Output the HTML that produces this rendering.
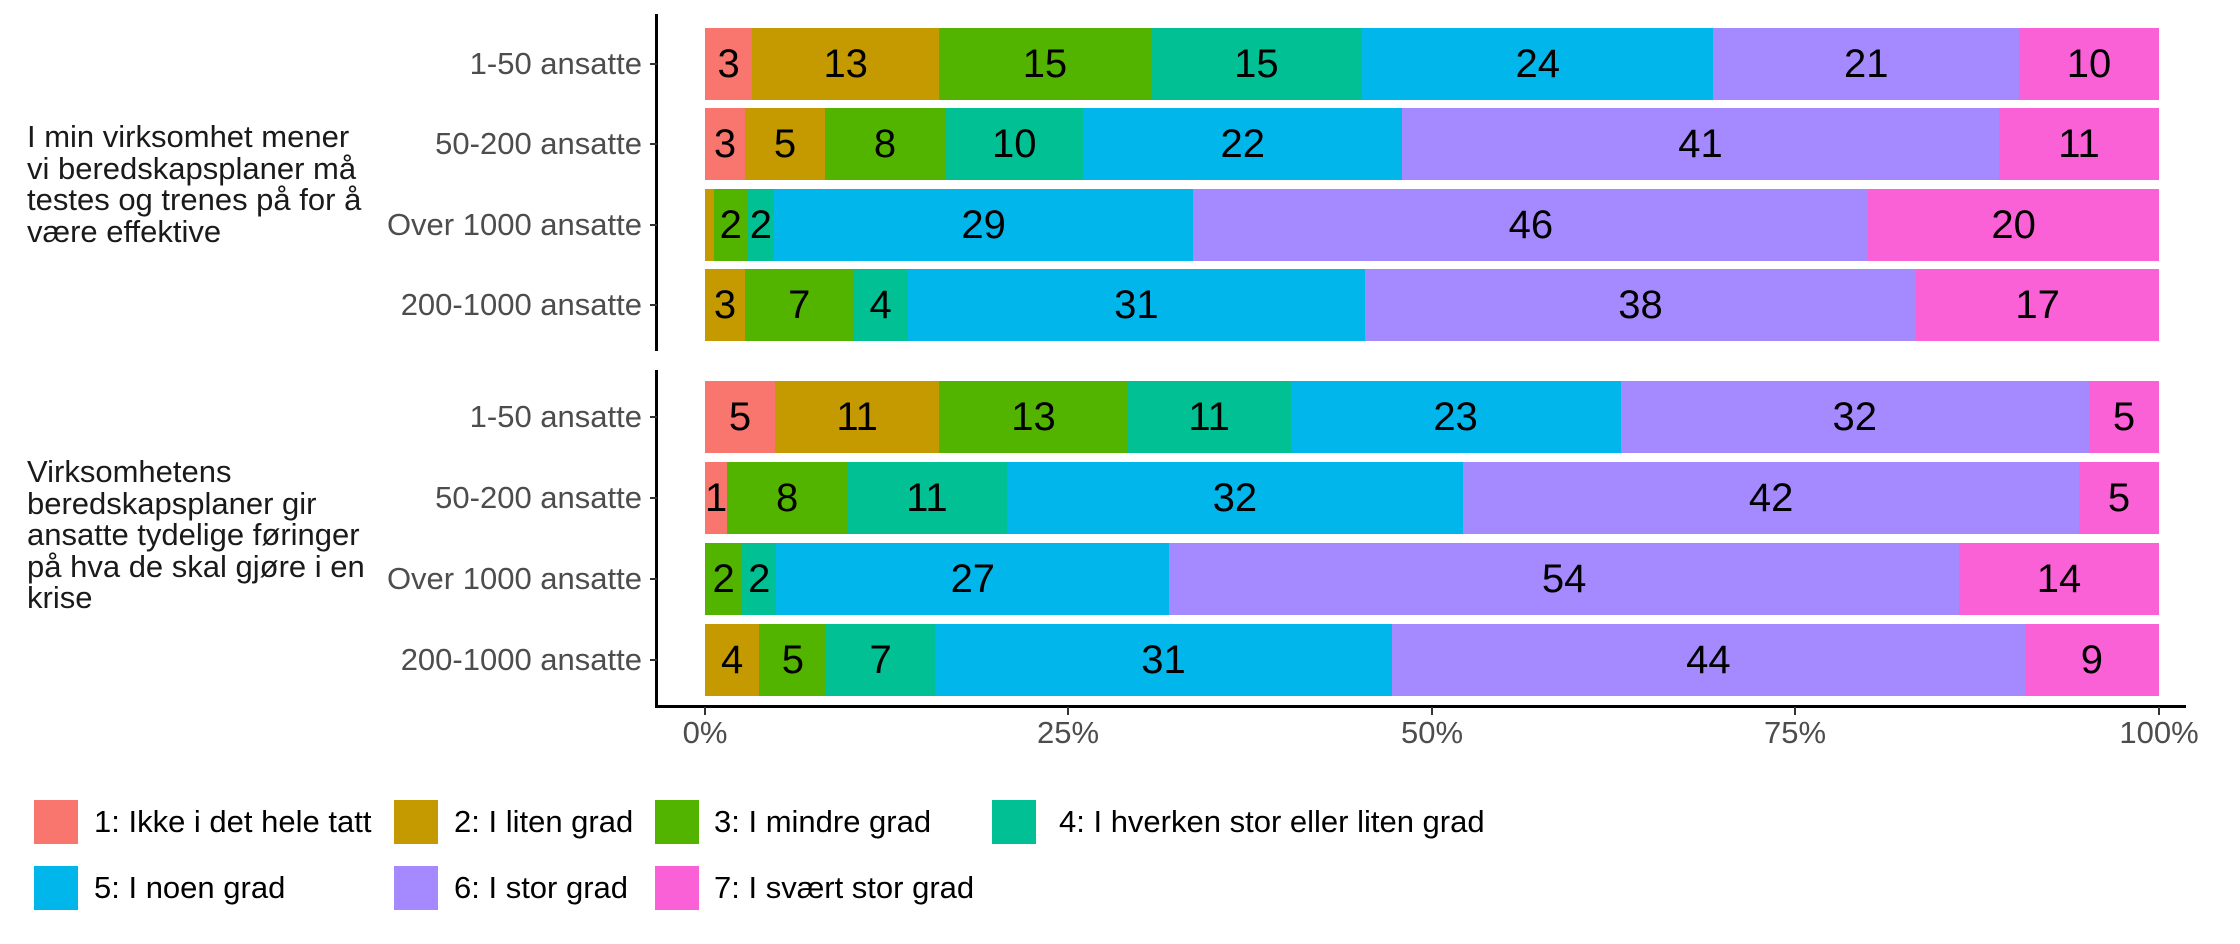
<!DOCTYPE html>
<html><head><meta charset="utf-8"><style>
body{margin:0;width:2240px;height:944px;background:#fff;position:relative;overflow:hidden;font-family:"Liberation Sans",Arial,sans-serif}
.a{position:absolute}
.bar{position:absolute;left:705px;width:1454px;height:72px;display:flex}
.bar div{height:100%;display:flex;align-items:center;justify-content:center;font-size:40px;color:#000;overflow:visible;white-space:nowrap}
.cat{position:absolute;right:1598px;font-size:31px;color:#4d4d4d;transform:translateY(-50%);white-space:nowrap}
.yt{position:absolute;left:650px;width:7px;height:2px;background:#333}
.grp{position:absolute;left:27px;font-size:31px;line-height:31.5px;color:#1a1a1a}
.xt{position:absolute;top:707px;width:2px;height:8px;background:#333}
.xl{position:absolute;top:715px;font-size:31px;color:#4d4d4d;transform:translateX(-50%)}
.key{position:absolute;width:44px;height:44px}
.lt{position:absolute;font-size:31px;color:#000;transform:translateY(-50%)}
</style></head><body>
<div class="a" style="left:655px;top:14px;width:3px;height:337px;background:#000"></div>
<div class="a" style="left:655px;top:370px;width:3px;height:338px;background:#000"></div>
<div class="a" style="left:655px;top:705px;width:1531px;height:3px;background:#000"></div>

<div class="bar" style="top:28px"><div style="flex:33;background:#F8766D">3</div><div style="flex:131;background:#C49A00">13</div><div style="flex:148;background:#53B400">15</div><div style="flex:148;background:#00C094">15</div><div style="flex:246;background:#00B6EB">24</div><div style="flex:214;background:#A58AFF">21</div><div style="flex:98;background:#FB61D7">10</div></div>
<div class="bar" style="top:108px"><div style="flex:28;background:#F8766D">3</div><div style="flex:56;background:#C49A00">5</div><div style="flex:84;background:#53B400">8</div><div style="flex:97;background:#00C094">10</div><div style="flex:223;background:#00B6EB">22</div><div style="flex:418;background:#A58AFF">41</div><div style="flex:112;background:#FB61D7">11</div></div>
<div class="bar" style="top:189px"><div style="flex:6;background:#C49A00"></div><div style="flex:24;background:#53B400">2</div><div style="flex:18;background:#00C094">2</div><div style="flex:293;background:#00B6EB">29</div><div style="flex:471;background:#A58AFF">46</div><div style="flex:203;background:#FB61D7">20</div></div>
<div class="bar" style="top:269px"><div style="flex:28;background:#C49A00">3</div><div style="flex:76;background:#53B400">7</div><div style="flex:38;background:#00C094">4</div><div style="flex:320;background:#00B6EB">31</div><div style="flex:386;background:#A58AFF">38</div><div style="flex:170;background:#FB61D7">17</div></div>

<div class="bar" style="top:381px"><div style="flex:49;background:#F8766D">5</div><div style="flex:115;background:#C49A00">11</div><div style="flex:132;background:#53B400">13</div><div style="flex:114;background:#00C094">11</div><div style="flex:231;background:#00B6EB">23</div><div style="flex:328;background:#A58AFF">32</div><div style="flex:49;background:#FB61D7">5</div></div>
<div class="bar" style="top:462px"><div style="flex:14;background:#F8766D">1</div><div style="flex:84;background:#53B400">8</div><div style="flex:112;background:#00C094">11</div><div style="flex:320;background:#00B6EB">32</div><div style="flex:432;background:#A58AFF">42</div><div style="flex:56;background:#FB61D7">5</div></div>
<div class="bar" style="top:543px"><div style="flex:26;background:#53B400">2</div><div style="flex:24;background:#00C094">2</div><div style="flex:275;background:#00B6EB">27</div><div style="flex:553;background:#A58AFF">54</div><div style="flex:140;background:#FB61D7">14</div></div>
<div class="bar" style="top:624px"><div style="flex:38;background:#C49A00">4</div><div style="flex:47;background:#53B400">5</div><div style="flex:76;background:#00C094">7</div><div style="flex:320;background:#00B6EB">31</div><div style="flex:443;background:#A58AFF">44</div><div style="flex:94;background:#FB61D7">9</div></div>

<div class="cat" style="top:64px">1-50 ansatte</div><div class="yt" style="top:63px"></div>
<div class="cat" style="top:144px">50-200 ansatte</div><div class="yt" style="top:143px"></div>
<div class="cat" style="top:225px">Over 1000 ansatte</div><div class="yt" style="top:224px"></div>
<div class="cat" style="top:305px">200-1000 ansatte</div><div class="yt" style="top:304px"></div>
<div class="cat" style="top:417px">1-50 ansatte</div><div class="yt" style="top:416px"></div>
<div class="cat" style="top:498px">50-200 ansatte</div><div class="yt" style="top:497px"></div>
<div class="cat" style="top:579px">Over 1000 ansatte</div><div class="yt" style="top:578px"></div>
<div class="cat" style="top:660px">200-1000 ansatte</div><div class="yt" style="top:659px"></div>

<div class="grp" style="top:121px">I min virksomhet mener<br>vi beredskapsplaner må<br>testes og trenes på for å<br>være effektive</div>
<div class="grp" style="top:456px">Virksomhetens<br>beredskapsplaner gir<br>ansatte tydelige føringer<br>på hva de skal gjøre i en<br>krise</div>

<div class="xt" style="left:704px"></div><div class="xl" style="left:705px">0%</div>
<div class="xt" style="left:1067px"></div><div class="xl" style="left:1068px">25%</div>
<div class="xt" style="left:1431px"></div><div class="xl" style="left:1432px">50%</div>
<div class="xt" style="left:1794px"></div><div class="xl" style="left:1795px">75%</div>
<div class="xt" style="left:2158px"></div><div class="xl" style="left:2159px">100%</div>

<div class="key" style="left:34px;top:800px;background:#F8766D"></div><div class="lt" style="left:94px;top:822px">1: Ikke i det hele tatt</div>
<div class="key" style="left:394px;top:800px;background:#C49A00"></div><div class="lt" style="left:454px;top:822px">2: I liten grad</div>
<div class="key" style="left:655px;top:800px;background:#53B400"></div><div class="lt" style="left:714px;top:822px">3: I mindre grad</div>
<div class="key" style="left:992px;top:800px;background:#00C094"></div><div class="lt" style="left:1059px;top:822px">4: I hverken stor eller liten grad</div>
<div class="key" style="left:34px;top:866px;background:#00B6EB"></div><div class="lt" style="left:94px;top:888px">5: I noen grad</div>
<div class="key" style="left:394px;top:866px;background:#A58AFF"></div><div class="lt" style="left:454px;top:888px">6: I stor grad</div>
<div class="key" style="left:655px;top:866px;background:#FB61D7"></div><div class="lt" style="left:714px;top:888px">7: I svært stor grad</div>
</body></html>
